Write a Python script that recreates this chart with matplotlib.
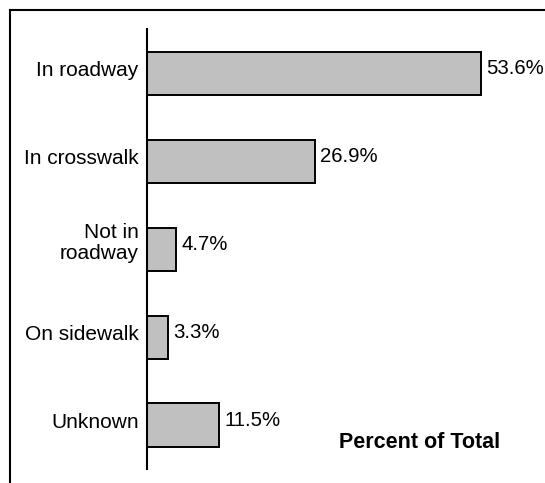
import matplotlib
matplotlib.use("Agg")
import matplotlib.pyplot as plt
from matplotlib.lines import Line2D
from matplotlib.transforms import ScaledTranslation

categories = ["In roadway", "In crosswalk", "Not in\nroadway", "On sidewalk", "Unknown"]
percents = [53.6, 26.9, 4.7, 3.3, 11.5]
value_labels = ["53.6%", "26.9%", "4.7%", "3.3%", "11.5%"]

plt.rcParams["font.family"] = ["Liberation Sans", "DejaVu Sans"]

W, H = 545, 483
fig = plt.figure(figsize=(W / 100, H / 100), dpi=100)

ax_left = 147 / W
ax_right = (147 + 60 * 6.23) / W
ax_top = 1 - 29.3 / H
ax_bottom = 1 - 469 / H
ax = fig.add_axes([ax_left, ax_bottom, ax_right - ax_left, ax_top - ax_bottom])

ypos = list(range(len(categories)))
ax.barh(ypos, percents, height=0.49, color="#c0c0c0", edgecolor="black", linewidth=1.4)
ax.set_xlim(0, 60)
ax.set_ylim(len(categories) - 0.5, -0.5)

lift = ScaledTranslation(0, 0.05, fig.dpi_scale_trans)
lift_multi = ScaledTranslation(0, 0.09, fig.dpi_scale_trans)

for y, v, lab in zip(ypos, percents, value_labels):
    ax.text(v + 0.9, y, lab, va="center", ha="left", fontsize=14.7,
            transform=ax.transData + lift)

ax.set_yticks(ypos)
ax.set_yticklabels(categories, fontsize=15, linespacing=1.12)
ax.tick_params(axis="y", length=0, pad=6)
for t, name in zip(ax.get_yticklabels(), categories):
    t.set_transform(t.get_transform() + (lift_multi if "\n" in name else lift))
ax.set_xticks([])
for s in ["top", "right", "bottom"]:
    ax.spines[s].set_visible(False)
ax.spines["left"].set_linewidth(1.5)

fig.text(420 / W, 1 - 442 / H, "Percent of Total", ha="center", va="center",
         fontsize=15.5, fontweight="bold")

# outer frame: top and left edges
fig.add_artist(Line2D([10 / W, 1.0], [1 - 9.5 / H, 1 - 9.5 / H], color="black", lw=1.5,
                      transform=fig.transFigure))
fig.add_artist(Line2D([10 / W, 10 / W], [0, 1 - 9.5 / H], color="black", lw=1.5,
                      transform=fig.transFigure))

fig.savefig("out.png", dpi=100)
